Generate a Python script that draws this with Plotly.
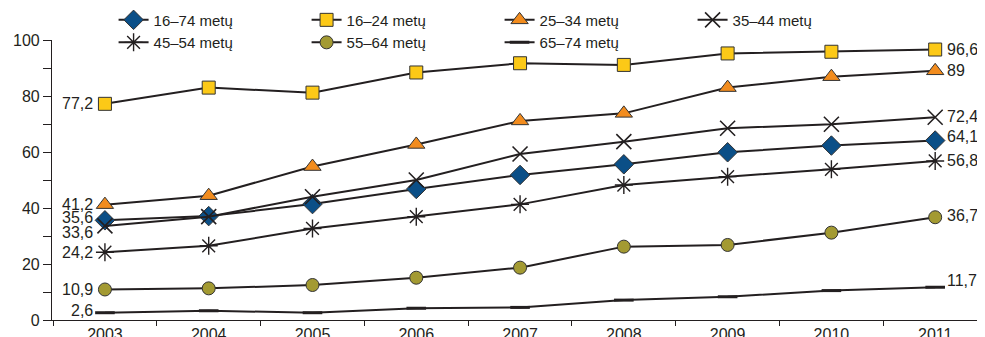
import plotly.graph_objects as go

# years on the category axis
years = ['2003', '2004', '2005', '2006', '2007', '2008', '2009', '2010', '2011']

# share of people by age group
age_16_74 = [35.6, 37.1, 41.4, 46.8, 51.8, 55.6, 59.9, 62.3, 64.1]
age_16_24 = [77.2, 83.0, 81.2, 88.4, 91.7, 91.1, 95.2, 95.8, 96.6]
age_25_34 = [41.2, 44.4, 54.8, 62.7, 71.1, 73.8, 83.0, 86.9, 89.0]
age_35_44 = [33.6, 36.9, 44.0, 50.0, 59.3, 63.7, 68.5, 69.9, 72.4]
age_45_54 = [24.2, 26.5, 32.7, 36.9, 41.3, 48.2, 51.2, 53.8, 56.8]
age_55_64 = [10.9, 11.3, 12.5, 15.1, 18.7, 26.2, 26.8, 31.2, 36.7]
age_65_74 = [2.6, 3.3, 2.6, 4.2, 4.5, 7.1, 8.3, 10.5, 11.7]

FONT = "Liberation Sans Narrow, Arial Narrow, Liberation Sans, Arial, sans-serif"
INK = '#231f20'

# name, values, marker style, label shift at start / end (px, to avoid overlap)
series = [
    ('16–74 metų', age_16_74, dict(symbol='diamond', size=15, color='#0b4f87', line=dict(color='#333', width=1)), 3, 4),
    ('16–24 metų', age_16_24, dict(symbol='square', size=13, color='#fcc917', line=dict(color='#333', width=1)), 0, 0),
    ('25–34 metų', age_25_34, dict(symbol='triangle-up', size=15, color='#f28c1e', line=dict(color='#333', width=1)), 0, 0),
    ('35–44 metų', age_35_44, dict(symbol='x-thin-open', size=15, color=INK, line=dict(color=INK, width=1.6)), -7, 1),
    ('45–54 metų', age_45_54, dict(symbol='asterisk-open', size=15, color=INK, line=dict(color=INK, width=1.4)), 0, 0),
    ('55–64 metų', age_55_64, dict(symbol='circle', size=13, color='#a39a32', line=dict(color='#333', width=1)), 0, 2),
    ('65–74 metų', age_65_74, dict(symbol='line-ew-open', size=14, color=INK, line=dict(color=INK, width=3)), 2, 7),
]


def fmt(v):
    return f"{v:g}".replace('.', ',')


fig = go.Figure()
annotations = []
last = len(years) - 1
for name, vals, marker, shift_l, shift_r in series:
    fig.add_trace(go.Scatter(
        x=years, y=vals, name=name,
        mode='lines+markers',
        line=dict(color=INK, width=2),
        marker=marker,
    ))
    # value labels at both ends (category index positions)
    annotations.append(dict(x=0, y=vals[0], text=fmt(vals[0]), showarrow=False,
                            xanchor='right', xshift=-10, yshift=shift_l,
                            font=dict(size=16, color=INK, family=FONT)))
    annotations.append(dict(x=last, y=vals[-1], text=fmt(vals[-1]), showarrow=False,
                            xanchor='left', xshift=10, yshift=shift_r,
                            font=dict(size=16, color=INK, family=FONT)))

# page body has an 8px margin, so the figure is a bit smaller than the window
fig.update_layout(
    width=977, height=329,
    margin=dict(l=44, r=0, t=32, b=17, autoexpand=False),
    paper_bgcolor='white', plot_bgcolor='white',
    font=dict(family=FONT, size=15, color=INK),
    showlegend=True,
    legend=dict(orientation='h', x=0.066, y=1.13, xanchor='left', yanchor='top',
                entrywidth=148, font=dict(size=15), tracegroupgap=0,
                bgcolor='rgba(0,0,0,0)'),
    annotations=annotations,
)
fig.update_xaxes(type='category', range=[-0.51, 8.48], showline=True, linecolor=INK,
                 linewidth=1.2, ticks='outside', tickson='boundaries', ticklen=5,
                 tickcolor=INK, showgrid=False, zeroline=False, tickfont=dict(size=16),
                 automargin=False)
fig.update_yaxes(range=[0, 100], tickvals=[0, 20, 40, 60, 80, 100], showline=True,
                 linecolor=INK, linewidth=1.2, ticks='outside', ticklen=8, tickcolor=INK,
                 minor=dict(dtick=10, ticks='outside', ticklen=8, tickcolor=INK),
                 showgrid=False, zeroline=False, tickfont=dict(size=16),
                 automargin=False)

fig.write_html("out.html")
